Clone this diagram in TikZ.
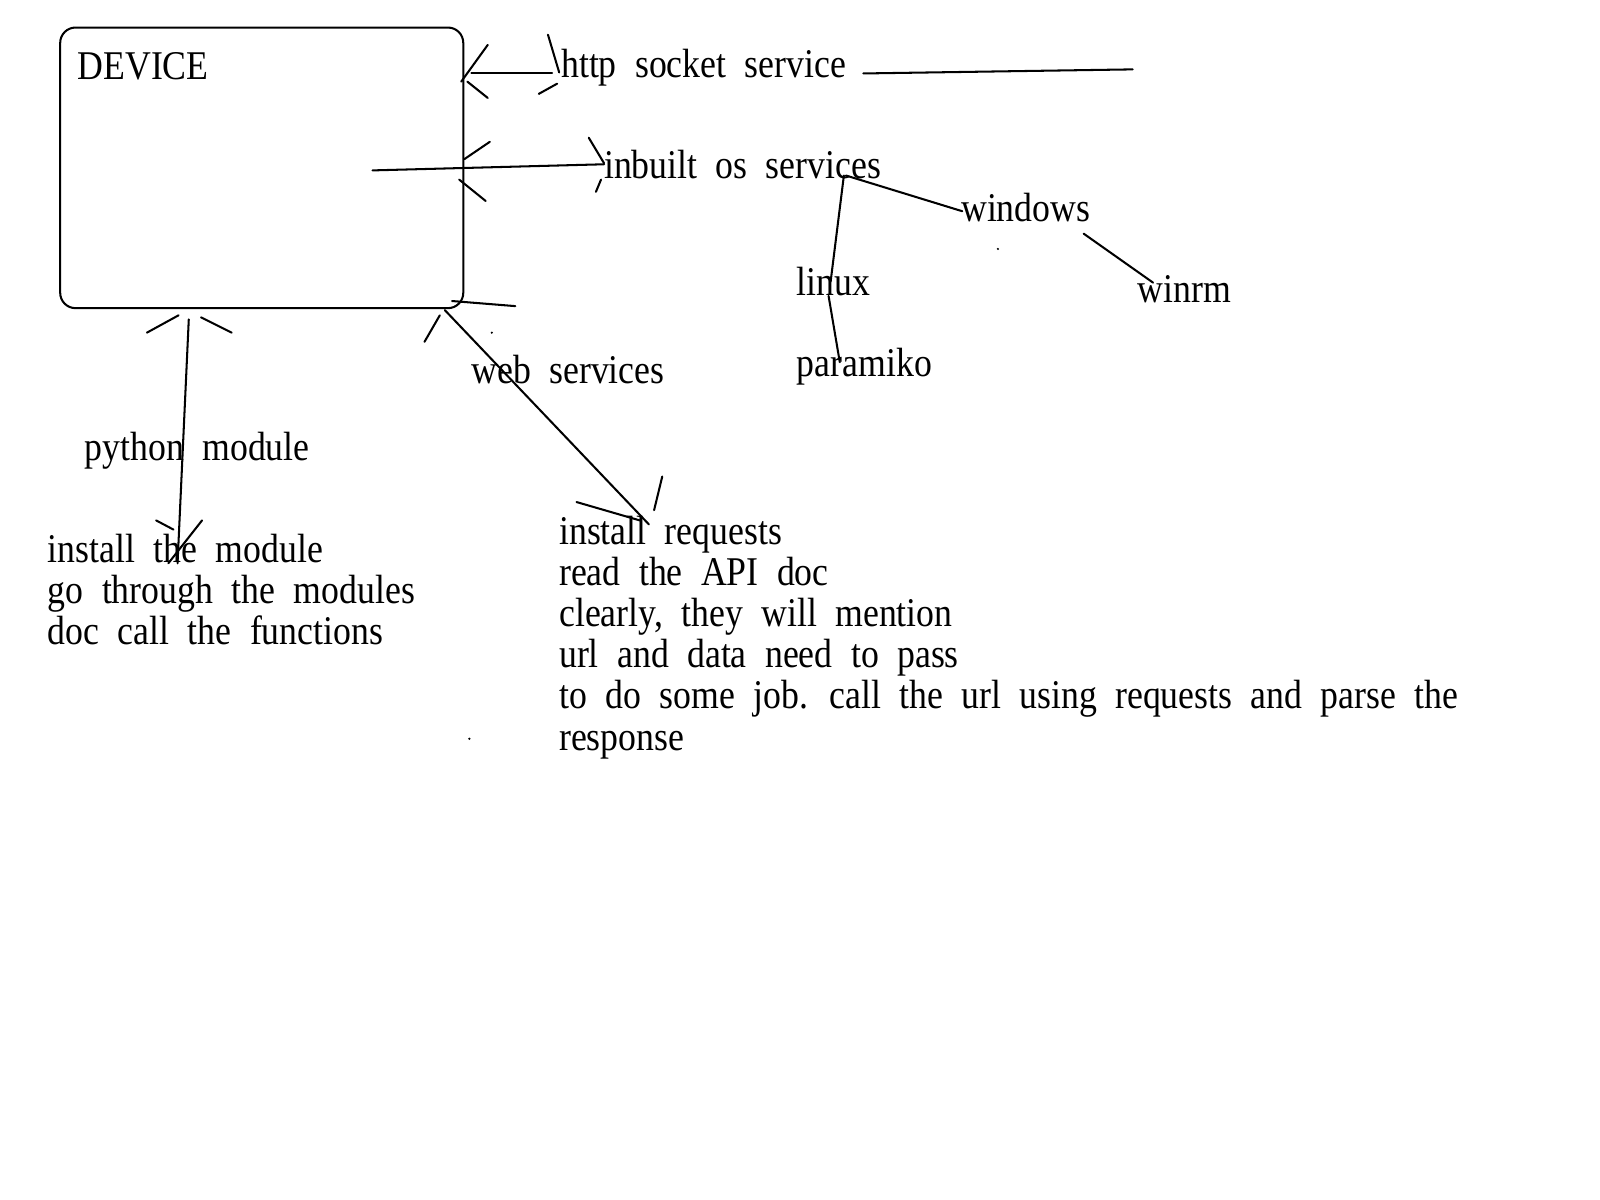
\documentclass[tikz,border=0pt]{standalone}
\usepackage{fontspec}
\setmainfont[FakeStretch=0.876]{Liberation Serif}
\newcommand\widespaces{\spaceskip=9pt plus 0pt minus 0pt\relax}
\begin{document}
\begin{tikzpicture}[x=0.5pt,y=-0.5pt,
  txt/.style={inner sep=0pt, outer sep=0pt, anchor=base west, align=left,
    font={\fontsize{20}{20.15}\selectfont}, execute at begin node={\widespaces}},
  stroke/.style={line width=1pt, line cap=round},
  speck/.style={fill=black, circle, inner sep=0pt, minimum size=1.2pt}]
\fill[white] (0,0) rectangle (1568,1176);
\useasboundingbox (0,0) rectangle (1568,1176);

% device box
\node (device) [draw, line width=1pt, rounded corners=7.5pt, anchor=north west,
  minimum width=197.5pt, minimum height=137.5pt, inner sep=0pt] at (58,26) {};
\node (devlabel) [txt] at (76,78) {DEVICE};

% labels (single lines: anchor at baseline; multi-line: anchor at last baseline)
\node (http)     [txt] at (550,76)  {http socket service};
\node (inbuilt)  [txt] at (592,175) {inbuilt os services};
\node (windows)  [txt] at (942,217) {windows};
\node (linux)    [txt] at (781,290) {linux};
\node (winrm)    [txt] at (1115,296) {winrm};
\node (paramiko) [txt] at (781,369) {paramiko};
\node (web)      [txt] at (462,376) {web services};
\node (python)   [txt] at (83,451)  {python module};
\node (pysteps)  [txt] at (47,632)  {install the module\\go through the modules\\doc call the functions};
\node (websteps) [txt] at (548,735) {install requests\\read the API doc\\clearly, they will mention\\url and data need to pass\\to do some job. call the url using requests and parse the\\response};

% http socket service connector
\draw[stroke] (462,72) -- (541,72);
\draw[stroke] (478,44) -- (452,80);
\draw[stroke] (458,80) -- (478,96);
\draw[stroke] (537,34) -- (548,71);
\draw[stroke] (528,92) -- (546,82);
\draw[stroke] (846,72) -- (1110,68);

% inbuilt os services connector
\draw[stroke] (365,167) -- (592,161);
\draw[stroke] (480,139) -- (455,156);
\draw[stroke] (450,176) -- (476,197);
\draw[stroke] (577,135) -- (592,160);
\draw[stroke] (589,176) -- (584,188);

% os tree
\draw[stroke] (829,172) -- (943,207);
\draw[stroke] (827,172) -- (814,276);
\draw[stroke] (812,290) -- (823,355);
\draw[stroke] (1062,229) -- (1130,277);

% web services connector
\draw[stroke] (443,295) -- (505,300);
\draw[stroke] (436,304) -- (636,514);
\draw[stroke] (431,309) -- (416,335);
\draw[stroke] (565,492) -- (627,510);
\draw[stroke] (649,467) -- (641,500);

% python module connector
\draw[stroke] (185,313) -- (174,552);
\draw[stroke] (144,326) -- (175,309);
\draw[stroke] (197,311) -- (227,326);
\draw[stroke] (153,510) -- (170,519);
\draw[stroke] (198,510) -- (165,552);

% stray specks
\node[speck] (s1) at (978,244) {};
\node[speck] (s2) at (482,326) {};
\node[speck] (s3) at (460,724) {};
\end{tikzpicture}
\end{document}
